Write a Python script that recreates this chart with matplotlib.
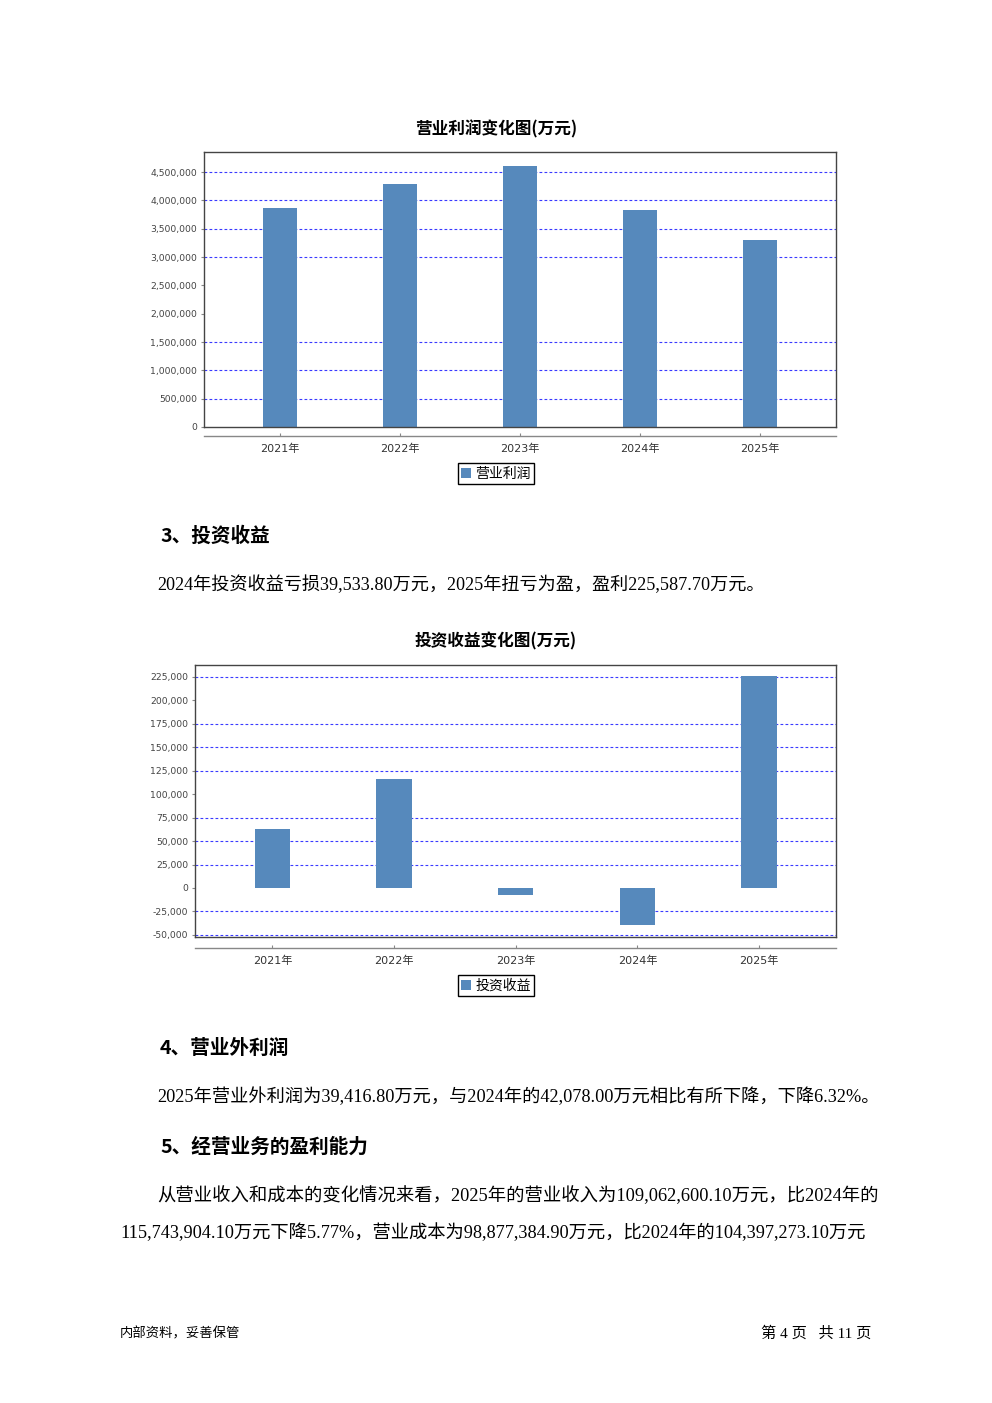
import matplotlib
matplotlib.use('Agg')
import matplotlib.pyplot as plt
from matplotlib.patches import Patch
from matplotlib.ticker import FuncFormatter

plt.rcParams['font.family'] = ['DejaVu Sans', 'Noto Sans CJK SC']

# 数据
years = ['2021年', '2022年', '2023年', '2024年', '2025年']
op_profit = [3865000, 4288000, 4606000, 3829000, 3300000]
op_ticks = [0, 500000, 1000000, 1500000, 2000000, 2500000, 3000000, 3500000, 4000000, 4500000]
op_grid = [500000, 1000000, 1500000, 3000000, 3500000, 4000000, 4500000]

inv_income = [62600, 115900, -7200, -39533.80, 225587.70]
inv_ticks = [-50000, -25000, 0, 25000, 50000, 75000, 100000, 125000, 150000, 175000, 200000, 225000]
inv_grid = [-50000, -25000, 25000, 50000, 75000, 125000, 150000, 175000, 225000]

W, H = 992, 1403
BAR = '#5689bc'
GRID = '#3a3aff'
CJK = ['Noto Sans CJK SC']
BODY = ['Liberation Serif', 'Noto Sans CJK SC']

fig = plt.figure(figsize=(W / 100, H / 100), dpi=100)
renderer = fig.canvas.get_renderer()


def box(x0, y0, x1, y1):
    return [x0 / W, 1 - y1 / H, (x1 - x0) / W, (y1 - y0) / H]


def fit_text(x, y, s, width, size, **kw):
    # 按参考宽度缩放字号
    t = fig.text(x / W, 1 - y / H, s, fontsize=size, va='center', **kw)
    if width:
        w = t.get_window_extent(renderer).width
        t.set_fontsize(size * width / w)
    return t


def draw_chart(rect, values, ticks, grid, ylim, xlim, title, title_y, label, legend_y, line_off):
    ax = fig.add_axes(rect)
    x = list(range(len(years)))
    for g in grid:
        ax.axhline(g, color=GRID, lw=0.8, ls=(0, (2.5, 2)), zorder=1)
    ax.bar(x, values, width=0.29, color=BAR, zorder=2)
    ax.set_xlim(*xlim)
    ax.set_ylim(*ylim)
    ax.set_yticks(ticks)
    ax.yaxis.set_major_formatter(FuncFormatter(lambda v, p: f'{int(v):,}'))
    ax.tick_params(axis='y', length=2, pad=3, labelsize=6.7, labelcolor='#444444', color='#888888')
    ax.set_xticks([])
    for s in ax.spines.values():
        s.set_color('#444444')
        s.set_linewidth(1.0)

    sec = ax.secondary_xaxis(line_off)
    sec.set_xticks(x)
    sec.set_xticklabels(years)
    sec.tick_params(length=2, direction='in', pad=5.5, labelsize=8, labelcolor='#333333', color='#888888')
    sec.spines['bottom'].set_color('#888888')
    sec.spines['bottom'].set_linewidth(1.0)

    t = fig.text(0.5, 1 - title_y / H, title, family=CJK, fontsize=12, fontweight='bold',
                 ha='center', va='center')
    w = t.get_window_extent(renderer).width
    t.set_fontsize(12 * 162 / w)
    fig.legend(handles=[Patch(facecolor=BAR)], labels=[label], loc='center',
               bbox_to_anchor=(496 / W, 1 - legend_y / H), frameon=True, fancybox=False,
               edgecolor='black', framealpha=1, handlelength=0.7, handleheight=0.7,
               handletextpad=0.3, borderpad=0.25, prop={'family': CJK, 'size': 10})
    return ax


draw_chart(box(204, 152, 836, 427), op_profit, op_ticks, op_grid, (0, 4853000),
           (-0.633, 4.633), '营业利润变化图(万元)', 129, '营业利润', 473.5, -0.033)
draw_chart(box(195, 664.7, 836, 937), inv_income, inv_ticks, inv_grid, (-52300, 238100),
           (-0.637, 4.633), '投资收益变化图(万元)', 641, '投资收益', 985.5, -0.04)

# 正文
fit_text(160, 536, '3、投资收益', 110, 14, family=CJK, fontweight='bold')
fit_text(157, 585, '2024年投资收益亏损39,533.80万元，2025年扭亏为盈，盈利225,587.70万元。', 606, 12, family=BODY)
fit_text(160, 1048, '4、营业外利润', 130, 14, family=CJK, fontweight='bold')
fit_text(157, 1097, '2025年营业外利润为39,416.80万元，与2024年的42,078.00万元相比有所下降，下降6.32%。', 719, 12, family=BODY)
fit_text(160, 1147, '5、经营业务的盈利能力', 209, 14, family=CJK, fontweight='bold')
fit_text(157, 1196, '从营业收入和成本的变化情况来看，2025年的营业收入为109,062,600.10万元，比2024年的', 719, 12, family=BODY)
fit_text(120, 1233, '115,743,904.10万元下降5.77%，营业成本为98,877,384.90万元，比2024年的104,397,273.10万元', 746, 12, family=BODY)

# 页脚
fit_text(120, 1333, '内部资料，妥善保管', 120, 9, family=CJK)
fit_text(761, 1333, '第 4 页   共 11 页', 110, 9, family=BODY)

fig.savefig('out.png', dpi=100)
